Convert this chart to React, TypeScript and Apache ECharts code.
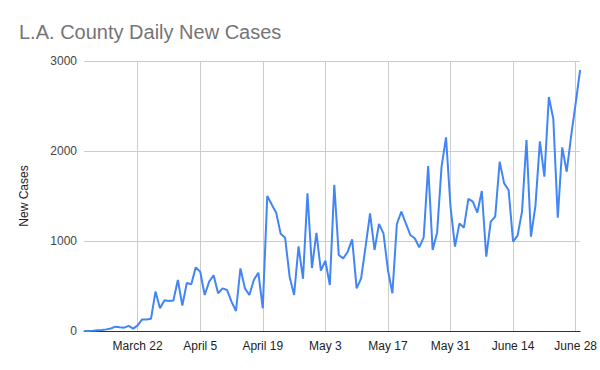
import React, { useEffect, useRef } from "react";
import * as echarts from "echarts";

const TITLE = "L.A. County Daily New Cases";
const Y_NAME = "New Cases";
const MONTHS = ["March", "April", "May", "June"];
const MONTH_DAYS = [31, 30, 31, 30];
const START_DAY = 10; // March 10
const LABEL_FIRST = 12; // index of March 22
const LABEL_STEP = 14;

const cases = [
  0, 0, 2, 8, 12, 18, 28, 48, 42, 37,
  57, 26, 63, 128, 128, 137, 440, 252, 342, 333,
  339, 567, 283, 533, 519, 707, 659, 400, 548, 619,
  419, 474, 456, 326, 222, 696, 474, 400, 567, 648,
  252, 1500, 1405, 1315, 1080, 1035, 604, 400, 940, 580,
  1530, 700, 1090, 670, 781, 511, 1625, 844, 807, 881,
  1019, 474, 585, 937, 1307, 900, 1189, 1085, 678, 419,
  1189, 1326, 1196, 1067, 1030, 930, 1041, 1833, 900, 1093,
  1826, 2152, 1381, 937, 1196, 1148, 1467, 1437, 1315, 1556,
  826, 1215, 1270, 1881, 1640, 1567, 993, 1060, 1326, 2122,
  1048, 1390, 2108, 1715, 2600, 2358, 1260, 2040, 1770, 2170,
  2530, 2900,
];

const yTicks = [0, 1000, 2000, 3000];

function buildDates(n: number): string[] {
  const out: string[] = [];
  let m = 0;
  let d = START_DAY;
  for (let i = 0; i < n; i++) {
    out.push(`${MONTHS[m]} ${d}`);
    d++;
    if (d > MONTH_DAYS[m]) {
      d = 1;
      m++;
    }
  }
  return out;
}

const dates = buildDates(cases.length);

const showIdx = (i: number) => i >= LABEL_FIRST && (i - LABEL_FIRST) % LABEL_STEP === 0;

export default function App() {
  const ref = useRef<HTMLDivElement>(null);
  useEffect(() => {
    if (!ref.current) return;
    const chart = echarts.init(ref.current, undefined, { renderer: "svg" });
    chart.setOption({
      animation: false,
      backgroundColor: "#ffffff",
      textStyle: { fontFamily: "Liberation Sans, Arial, sans-serif" },
      title: {
        text: TITLE,
        left: 14,
        top: 17,
        textStyle: {
          color: "#757575",
          fontSize: 20,
          fontWeight: "normal",
          fontFamily: "Liberation Sans, Arial, sans-serif",
        },
      },
      grid: { left: 84, right: 19, top: 61, bottom: 39, containLabel: false },
      xAxis: {
        type: "category",
        data: dates,
        boundaryGap: false,
        axisLine: { show: true, lineStyle: { color: "#333333", width: 1 } },
        axisTick: { show: false },
        axisLabel: {
          interval: (i: number) => showIdx(i),
          color: "#222222",
          fontSize: 12,
          margin: 9,
        },
        splitLine: {
          show: true,
          interval: (i: number) => showIdx(i),
          lineStyle: { color: "#cccccc", width: 1 },
        },
      },
      yAxis: {
        type: "value",
        min: yTicks[0],
        max: yTicks[yTicks.length - 1],
        interval: 1000,
        name: Y_NAME,
        nameLocation: "middle",
        nameGap: 54,
        nameRotate: 90,
        nameTextStyle: { color: "#222222", fontSize: 12 },
        axisLine: { show: false },
        axisTick: { show: false },
        axisLabel: {
          color: "#444444",
          fontSize: 12,
          margin: 7,
          formatter: (v: number) => String(v),
        },
        splitLine: { show: true, lineStyle: { color: "#cccccc", width: 1 } },
      },
      series: [
        {
          type: "line",
          data: cases,
          showSymbol: false,
          symbol: "none",
          lineStyle: { color: "#4285f4", width: 2 },
          itemStyle: { color: "#4285f4" },
        },
      ],
    });
    return () => chart.dispose();
  }, []);
  return (
    <div
      ref={ref}
      style={{ position: "fixed", left: 0, top: 0, width: 600, height: 370, background: "#fff" }}
    />
  );
}
